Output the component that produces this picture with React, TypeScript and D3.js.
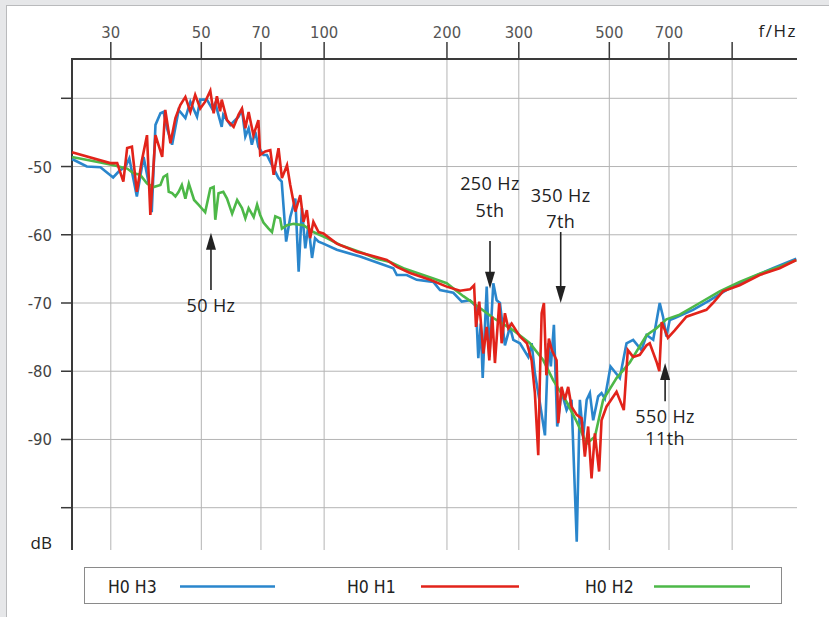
import React from "react";
import * as d3 from "d3";

// ---- data (frequency in Hz, level in dB) ----
const seriesNames = ["H0 H3", "H0 H1", "H0 H2"];
const seriesColors = ["#2a86cc", "#e2231a", "#4db848"];

const h0h3: [number, number][] = [
  [24.1, -48.9], [26.2, -50.0], [28.3, -50.1], [30.4, -51.6], [31.4, -50.7], [32.6, -50.0],
  [33.3, -48.8], [34.75, -54.4], [36.1, -48.6], [37.5, -53.7], [37.8, -56.7], [38.6, -43.9],
  [39.7, -42.2], [40.4, -42.0], [41.2, -44.4], [42.4, -46.8], [44.0, -41.7], [45.7, -42.9],
  [47.0, -40.5], [48.8, -42.7], [49.7, -40.2], [51.6, -40.2], [53.1, -41.5], [54.1, -40.7],
  [56.1, -44.2], [56.6, -42.4], [58.9, -43.9], [61.7, -42.7], [62.9, -41.7], [64.1, -45.6],
  [65.3, -44.4], [66.5, -46.8], [67.8, -44.9], [69.0, -47.1], [71.0, -48.3], [72.4, -48.3],
  [74.5, -49.8], [77.3, -51.7], [78.7, -52.2], [80.7, -61.0], [82.6, -57.4], [85.0, -54.7],
  [86.6, -65.4], [88.2, -56.1], [89.9, -62.0], [91.5, -58.6], [93.4, -63.4], [95.0, -60.5],
  [96.9, -61.0], [99.6, -61.3], [107.4, -62.2], [122.5, -63.2], [139.7, -64.4], [147.8, -64.9],
  [150.7, -65.9], [159.4, -65.9], [168.6, -66.6], [185.2, -66.9], [192.3, -68.1], [207.3, -68.5],
  [217.4, -69.8], [227.8, -69.6], [235.6, -70.5], [238.7, -78.1], [242.0, -73.0], [244.7, -81.0],
  [250.3, -67.6], [254.0, -77.9], [259.8, -67.1], [264.7, -69.6], [269.7, -70.0], [277.4, -76.2],
  [285.4, -73.5], [290.8, -75.4], [301.9, -75.9], [316.4, -77.9], [322.5, -75.9], [328.5, -80.3],
  [338.0, -84.7], [347.7, -89.4], [354.2, -75.9], [359.5, -79.3], [365.7, -73.2], [372.6, -88.1],
  [381.9, -83.0], [392.9, -85.7], [404.0, -84.2], [416.0, -105.0], [423.4, -84.2], [431.4, -89.6],
  [440.0, -84.2], [448.0, -83.2], [456.5, -87.2], [469.4, -83.7], [478.5, -83.2], [487.5, -84.0],
  [503.4, -79.3], [530.5, -81.0], [550.9, -75.9], [572.0, -75.4], [599.5, -76.9], [617.0, -74.7],
  [640.5, -75.4], [664.5, -70.0], [677.0, -72.0], [690.0, -74.9], [703.0, -72.5], [723.2, -72.2],
  [802.0, -71.0], [880.8, -69.6], [968.0, -68.1], [1104, -66.4], [1259, -64.9], [1436, -63.5],
];

const h0h1: [number, number][] = [
  [24.1, -47.9], [29.9, -49.5], [31.1, -49.5], [32.2, -52.2], [32.9, -47.3], [33.8, -47.1],
  [34.75, -53.7], [35.7, -49.3], [36.8, -45.4], [37.5, -57.1], [38.6, -45.4], [40.1, -48.6],
  [40.8, -41.7], [42.0, -46.6], [43.2, -42.9], [44.4, -41.0], [45.7, -39.8], [47.0, -42.0],
  [48.3, -39.5], [49.7, -41.5], [51.1, -40.5], [52.6, -38.9], [53.6, -42.2], [54.6, -39.7],
  [55.6, -41.9], [56.1, -40.2], [57.8, -43.2], [60.0, -44.2], [61.7, -42.4], [62.9, -41.5],
  [64.1, -44.4], [65.3, -42.0], [67.1, -45.4], [69.0, -43.2], [69.7, -48.3], [71.7, -47.8],
  [73.8, -47.6], [75.2, -51.2], [77.3, -47.3], [78.8, -51.7], [81.1, -49.8], [82.6, -52.7],
  [85.0, -56.6], [87.4, -54.2], [89.0, -58.1], [90.7, -56.4], [92.4, -60.5], [94.1, -58.1],
  [96.9, -59.6], [99.6, -59.8], [107.4, -61.3], [120.2, -62.5], [129.6, -63.0], [142.4, -63.7],
  [150.7, -64.7], [162.4, -65.6], [181.8, -66.6], [199.7, -67.6], [215.3, -68.2], [227.8, -68.0],
  [233.1, -67.4], [235.6, -73.5], [240.0, -69.8], [245.5, -77.4], [250.3, -73.5], [254.0, -78.4],
  [258.3, -72.0], [262.2, -78.8], [268.6, -70.0], [272.3, -75.9], [277.4, -71.5], [282.7, -73.7],
  [288.1, -73.0], [301.9, -74.9], [314.0, -75.9], [322.5, -78.4], [328.5, -83.2], [334.8, -92.3],
  [338.0, -80.8], [341.3, -71.5], [345.7, -70.0], [350.5, -80.6], [355.5, -75.2], [361.5, -76.9],
  [371.3, -78.4], [374.8, -87.6], [381.9, -82.3], [389.0, -84.2], [396.4, -82.3], [404.0, -85.2],
  [416.0, -86.4], [427.5, -86.9], [435.5, -92.5], [443.7, -88.1], [452.3, -95.7], [460.8, -89.1],
  [472.0, -94.7], [478.5, -87.2], [492.0, -85.2], [520.8, -83.0], [542.6, -85.7], [555.0, -76.9],
  [572.0, -77.9], [593.8, -77.6], [617.0, -76.2], [628.1, -75.9], [652.5, -78.6], [663.0, -80.0],
  [672.0, -72.8], [696.0, -75.1], [723.2, -74.0], [772.5, -72.0], [817.0, -71.5], [864.7, -71.0],
  [897.3, -70.0], [949.5, -68.3], [1043, -67.4], [1168, -65.9], [1307, -64.9], [1436, -63.7],
];

const h0h2: [number, number][] = [
  [24.1, -48.6], [28.3, -49.4], [30.5, -49.8], [32.9, -50.3], [34.1, -51.0], [35.4, -51.2],
  [36.8, -52.5], [38.2, -53.0], [39.7, -52.7], [40.4, -51.5], [41.2, -51.2], [41.6, -53.7],
  [42.4, -53.9], [43.2, -54.4], [44.0, -53.7], [44.8, -52.7], [45.7, -54.7], [46.6, -52.5],
  [48.0, -54.9], [49.2, -55.6], [51.1, -56.7], [52.6, -53.2], [53.6, -53.0], [54.1, -57.8],
  [55.1, -53.9], [56.6, -53.7], [57.8, -54.7], [59.5, -56.9], [61.2, -54.9], [62.9, -56.1],
  [64.1, -57.6], [65.3, -56.1], [67.2, -57.4], [68.5, -55.6], [69.7, -57.1], [71.0, -58.2],
  [73.1, -59.1], [74.5, -59.6], [75.9, -57.3], [78.0, -57.6], [78.8, -59.1], [81.1, -58.6],
  [84.2, -58.4], [89.0, -58.6], [94.1, -59.6], [101.6, -60.5], [109.4, -61.5], [124.8, -62.7],
  [134.6, -63.5], [145.1, -64.0], [156.4, -64.9], [185.2, -66.4], [199.7, -67.1], [219.4, -69.0],
  [232.0, -70.0], [259.8, -72.2], [290.8, -74.0], [319.4, -75.9], [344.5, -78.4], [364.2, -81.3],
  [392.9, -84.5], [416.0, -87.4], [440.0, -90.6], [460.8, -89.6], [482.8, -84.2], [520.8, -81.0],
  [561.3, -78.7], [617.0, -74.7], [652.5, -73.7], [690.0, -72.4], [743.8, -71.7], [832.5, -70.0],
  [932.0, -68.3], [1043, -66.9], [1168, -65.7], [1307, -64.7], [1436, -63.7],
];

const freqTicks = [30, 50, 70, 100, 200, 300, 500, 700, 1000];
const freqTickLabels = ["30", "50", "70", "100", "200", "300", "500", "700", ""];
const dbTicks = [-40, -50, -60, -70, -80, -90, -100];
const dbTickLabels = ["", "-50", "-60", "-70", "-80", "-90", ""];

const annotations = [
  { f: 52.8, lines: ["50 Hz"], dir: "up", tipDb: -59.7, tailDb: -68.1, textDb: [-71.3] },
  { f: 255, lines: ["250 Hz", "5th"], dir: "down", tipDb: -67.9, tailDb: -60.9, textDb: [-53.5, -57.4] },
  { f: 380, lines: ["350 Hz", "7th"], dir: "down", tipDb: -70.0, tailDb: -59.6, textDb: [-55.2, -59.0] },
  { f: 685, lines: ["550 Hz", "11th"], dir: "up", tipDb: -78.8, tailDb: -84.4, textDb: [-87.6, -90.8] },
];

const W = 829;
const H = 617;
const left = 72;
const right = 797;
const top = 59;
const bottom = 550;

export default function App() {
  const x = d3.scaleLog().domain([24.1, 1442]).range([left, right]);
  const y = d3.scaleLinear().domain([-40, -100]).range([98.3, 507.7]);
  const line = d3
    .line<[number, number]>()
    .x((d) => x(d[0]))
    .y((d) => y(d[1]));

  const all = [h0h3, h0h2, h0h1];
  const colorsOrder = [seriesColors[0], seriesColors[2], seriesColors[1]];

  const tickFont = "'Liberation Sans Narrow', 'DejaVu Sans Condensed', 'Liberation Sans', sans-serif";
  const mainFont = "'Open Sans', 'Noto Sans', sans-serif";

  const legendX = [108, 347, 585];
  const legendLine = [
    [180, 275],
    [421, 519],
    [654, 750],
  ];

  return (
    <svg
      width={W}
      height={H}
      style={{ position: "absolute", left: 0, top: 0 }}
      xmlns="http://www.w3.org/2000/svg"
    >
      <rect x={0} y={0} width={W} height={H} fill="#e6e7e9" />
      <rect x={6.5} y={5.5} width={W} height={H} fill="#ffffff" stroke="#b9babc" strokeWidth={1} />

      {/* grid */}
      {dbTicks.map((t) => (
        <line key={"gy" + t} x1={left} x2={right} y1={y(t)} y2={y(t)} stroke="#b4b4b4" strokeWidth={1} />
      ))}
      {freqTicks.map((t) => (
        <line key={"gx" + t} x1={x(t)} x2={x(t)} y1={top} y2={bottom} stroke="#b4b4b4" strokeWidth={1} />
      ))}

      {/* axes */}
      <line x1={left} x2={right} y1={top} y2={top} stroke="#3a3a3a" strokeWidth={2} />
      <line x1={left} x2={left} y1={top - 1} y2={bottom} stroke="#3a3a3a" strokeWidth={2} />
      {freqTicks.map((t, i) => (
        <g key={"tx" + t}>
          <line x1={x(t)} x2={x(t)} y1={42} y2={top} stroke="#3a3a3a" strokeWidth={1.5} />
          <text
            x={x(t)}
            y={37.5}
            textAnchor="middle"
            fontFamily={tickFont}
            fontSize={16.5}
            fill="#555"
          >
            {freqTickLabels[i]}
          </text>
        </g>
      ))}
      {dbTicks.map((t, i) => (
        <g key={"ty" + t}>
          <line x1={61} x2={left} y1={y(t)} y2={y(t)} stroke="#3a3a3a" strokeWidth={1.5} />
          <text x={52} y={y(t) + 6} textAnchor="end" fontFamily={tickFont} fontSize={16.5} fill="#444">
            {dbTickLabels[i]}
          </text>
        </g>
      ))}
      <text x={797} y={37} textAnchor="end" fontFamily={mainFont} fontSize={17} letterSpacing={1.5} fill="#222">
        f/Hz
      </text>
      <text x={52} y={549} textAnchor="end" fontFamily={mainFont} fontSize={17} fill="#222">
        dB
      </text>

      {/* series */}
      <g fill="none" strokeWidth={2.6}>
        {all.map((s, i) => (
          <path key={"s" + i} d={line(s) || ""} stroke={colorsOrder[i]} />
        ))}
      </g>

      {/* annotations */}
      {annotations.map((a, i) => {
        const ax = x(a.f);
        const tip = y(a.tipDb);
        const tail = y(a.tailDb);
        const sgn = a.dir === "up" ? 1 : -1;
        const head = `M${ax},${tip} L${ax - 5},${tip + sgn * 17} L${ax + 5},${tip + sgn * 17} Z`;
        return (
          <g key={"a" + i}>
            <line x1={ax} x2={ax} y1={tip + sgn * 10} y2={tail} stroke="#222" strokeWidth={1.6} />
            <path d={head} fill="#222" />
            {a.lines.map((l, j) => (
              <text
                key={j}
                x={ax}
                y={y(a.textDb[j])}
                textAnchor="middle"
                fontFamily={mainFont}
                fontSize={18}
                letterSpacing={0.4}
                fill="#222"
              >
                {l}
              </text>
            ))}
          </g>
        );
      })}

      {/* legend */}
      <rect x={84.5} y={567.5} width={697} height={36} fill="#fff" stroke="#8a8a8a" strokeWidth={1} />
      {seriesNames.map((n, i) => (
        <g key={"l" + i}>
          <text x={legendX[i]} y={592.5} fontFamily={tickFont} fontSize={17.5} fill="#222">
            {n}
          </text>
          <line
            x1={legendLine[i][0]}
            x2={legendLine[i][1]}
            y1={586.5}
            y2={586.5}
            stroke={seriesColors[i]}
            strokeWidth={2.5}
          />
        </g>
      ))}
    </svg>
  );
}
